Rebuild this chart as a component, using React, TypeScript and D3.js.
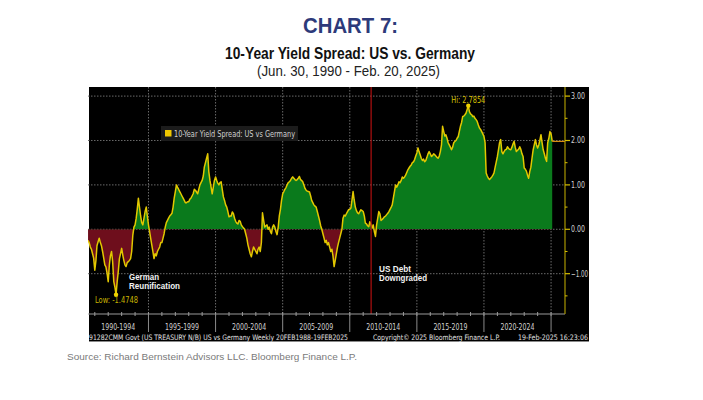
import React from "react";
import * as d3 from "d3";

// Month-end spread values (US 10Y minus German 10Y, %)
// Jul 1990 - Dec 1994 (first value = 30 Jun 1990)
const spread1990_1994 = [
  -0.25, -0.3, -0.4, -0.45, -0.55, -0.65,
  -0.92, -0.7, -0.37, -0.28, -0.2, -0.3, -0.37, -0.5, -0.65, -0.8, -0.85, -0.99,
  -1.18, -0.8, -0.6, -0.5, -0.73, -1.18, -1.3, -1.4748, -1.18, -0.95, -0.66, -0.55,
  -0.43, -0.58, -0.7, -0.8, -0.84, -0.75, -0.73, -0.7, -0.66, -0.5, -0.13, 0.05,
  0.1, 0.25, 0.45, 0.7, 0.5, 0.3, 0.15, 0.1, 0.25, 0.4, 0.5, 0.3,
];
const spread1995_1999 = [
  0.1, -0.05, -0.2, -0.35, -0.5, -0.66, -0.55, -0.6, -0.5, -0.45, -0.4, -0.3,
  -0.3, -0.2, -0.1, 0.05, 0.15, 0.2, 0.25, 0.3, 0.33, 0.36, 0.5, 0.7,
  0.85, 1.0, 0.95, 0.9, 0.85, 0.8, 0.75, 0.7, 0.65, 0.6, 0.6, 0.62,
  0.62, 0.68, 0.7, 0.75, 0.8, 0.9, 0.88, 0.84, 0.8, 0.9, 1.0, 1.05,
  1.1, 1.2, 1.4, 1.5, 1.6, 1.7, 1.3, 1.1, 0.95, 0.8, 0.95, 1.1,
];
const spread2000_2004 = [
  1.18, 1.1, 1.04, 1.0, 1.05, 1.07, 0.9, 0.73, 0.65, 0.55, 0.5, 0.4,
  0.28, 0.3, 0.3, 0.39, 0.35, 0.25, 0.18, 0.14, 0.12, 0.2, 0.18, 0.1,
  0.06, 0.03, 0.0, -0.1, -0.2, -0.35, -0.45, -0.55, -0.62, -0.5, -0.4, -0.45,
  -0.5, -0.55, -0.45, -0.4, -0.5, -0.3, 0.37, 0.2, 0.05, 0.08, 0.1, 0.0,
  0.05, -0.05, -0.1, 0.05, 0.1, 0.05, -0.05, -0.12, 0.05, 0.3, 0.45, 0.65,
];
const spread2005_2009 = [
  0.8, 0.85, 0.9, 0.94, 1.0, 1.05, 1.07, 1.1, 1.15, 1.18, 1.15, 1.12,
  1.1, 1.12, 1.15, 1.19, 1.12, 1.1, 1.07, 1.0, 0.92, 0.88, 0.86, 0.85,
  0.84, 0.75, 0.65, 0.6, 0.55, 0.52, 0.5, 0.4, 0.3, 0.2, 0.08, 0.0,
  -0.1, -0.2, -0.3, -0.25, -0.35, -0.3, -0.4, -0.5, -0.45, -0.6, -0.84, -0.7,
  -0.55, -0.4, -0.3, -0.2, -0.1, 0.0, 0.25, 0.32, 0.3, 0.35, 0.4, 0.44,
];
const spread2010_2014 = [
  0.45, 0.48, 0.65, 0.85, 0.66, 0.5, 0.42, 0.37, 0.35, 0.4, 0.44, 0.42,
  0.4, 0.3, 0.14, 0.12, 0.08, 0.06, 0.17, 0.1, 0.03, 0.1, -0.05, -0.16,
  0.1, 0.25, 0.4, 0.35, 0.2, 0.22, 0.25, 0.28, 0.3, 0.33, 0.36, 0.4,
  0.45, 0.5, 0.55, 0.7, 0.85, 1.0, 0.95, 1.0, 1.07, 1.05, 1.1, 1.18,
  1.15, 1.18, 1.22, 1.28, 1.34, 1.38, 1.42, 1.45, 1.5, 1.52, 1.57, 1.65,
];
const spread2015_2019 = [
  1.72, 1.83, 1.75, 1.68, 1.6, 1.55, 1.58, 1.52, 1.55, 1.62, 1.7, 1.75,
  1.7, 1.64, 1.66, 1.7, 1.68, 1.65, 1.62, 1.6, 1.65, 1.75, 1.9, 2.32,
  2.2, 2.1, 2.13, 2.05, 1.95, 1.9, 1.85, 1.79, 1.85, 1.95, 1.98, 2.0,
  2.05, 2.09, 2.2, 2.32, 2.4, 2.54, 2.55, 2.58, 2.62, 2.7, 2.7854, 2.65,
  2.6, 2.58, 2.54, 2.55, 2.5, 2.47, 2.43, 2.35, 2.28, 2.25, 2.2, 2.15,
];
const spread2020_2025 = [
  2.09, 1.95, 1.27, 1.2, 1.15, 1.12, 1.15, 1.18, 1.22, 1.27, 1.4, 1.52,
  1.64, 1.8, 1.95, 2.02, 1.75, 1.7, 1.75, 1.79, 1.8, 1.86, 1.82, 1.8,
  1.79, 1.85, 1.92, 1.98, 1.85, 1.75, 1.78, 1.8, 1.86, 1.8, 1.7, 1.64,
  1.38, 1.35, 1.31, 1.22, 1.15, 1.3, 1.4, 1.6, 1.79, 1.9, 2.02, 1.9,
  1.83, 1.9, 2.0, 2.13, 1.95, 1.79, 1.7, 1.6, 1.53, 1.95, 2.05, 2.2,
  2.15, 1.98,
];

const periodLabels = ["1990-1994", "1995-1999", "2000-2004", "2005-2009", "2010-2014", "2015-2019", "2020-2024"];
const periodStarts = [1990, 1995, 2000, 2005, 2010, 2015, 2020];
const yTickValues = [3, 2, 1, 0, -1];
const yMinorValues = [2.5, 1.5, 0.5, -0.5, -1.5];
const hiValue = 2.7854;
const lowValue = -1.4748;

const narrow = "'Liberation Sans Narrow', 'DejaVu Sans Condensed', 'Arial Narrow', sans-serif";
const sans = "'Liberation Sans', Arial, Helvetica, sans-serif";

export default function App() {
  const values = [
    ...spread1990_1994, ...spread1995_1999, ...spread2000_2004, ...spread2005_2009,
    ...spread2010_2014, ...spread2015_2019, ...spread2020_2025,
  ];
  const data = values.map((v, i) => ({ date: new Date(1990, 6 + i, 1), v }));

  const left = 88, right = 565, top = 87, bottom = 314;
  const x = d3.scaleTime().domain([new Date(1990, 5, 30), new Date(2026, 0, 15)]).range([left, right]);
  const y = d3.scaleLinear().domain([-1.908, 3.205]).range([bottom, top]);
  const y0 = y(0);

  const area = d3.area<{ date: Date; v: number }>().x(d => x(d.date)).y0(y0).y1(d => y(d.v));
  const line = d3.line<{ date: Date; v: number }>().x(d => x(d.date)).y(d => y(d.v));

  const hi = data.find(d => d.v === hiValue)!;
  const lo = data.find(d => d.v === lowValue)!;
  const last = data[data.length - 1];

  const boundaries = [1995, 2000, 2005, 2010, 2015, 2020, 2025].map(yr => x(new Date(yr, 0, 1)));
  const years = d3.range(1991, 2026).map(yr => x(new Date(yr, 0, 1)));
  const downgrade = x(new Date(2011, 7, 5));

  return (
    <svg width={703} height={400} style={{ position: "absolute", left: 0, top: 0, background: "#fff" }}>
      <defs>
        <clipPath id="above"><rect x={left} y={top} width={right - left} height={y0 - top} /></clipPath>
        <clipPath id="below"><rect x={left} y={y0} width={right - left} height={bottom - y0} /></clipPath>
        <clipPath id="plot"><rect x={left} y={top} width={right - left} height={bottom - top} /></clipPath>
      </defs>

      {/* titles */}
      <text x={350.5} y={33} textAnchor="middle" fontFamily={sans} fontWeight="bold" fontSize={22} fill="#2d3a7a" textLength={95} lengthAdjust="spacingAndGlyphs">CHART 7:</text>
      <text x={350} y={59} textAnchor="middle" fontFamily={sans} fontWeight="bold" fontSize={16} fill="#111" textLength={250} lengthAdjust="spacingAndGlyphs">10-Year Yield Spread: US vs. Germany</text>
      <text x={348.5} y={76} textAnchor="middle" fontFamily={sans} fontSize={14} fill="#222" textLength={183} lengthAdjust="spacingAndGlyphs">(Jun. 30, 1990 - Feb. 20, 2025)</text>

      {/* chart background */}
      <rect x={89} y={87} width={500} height={254} fill="#000" />
      <line x1={89} x2={589} y1={341.5} y2={341.5} stroke="#8a8a8a" strokeWidth={1} />

      {/* grid */}
      {yTickValues.map(t => (
        <line key={"g" + t} x1={left} x2={right} y1={y(t)} y2={y(t)} stroke="#6a6a6a" strokeWidth={1} strokeDasharray="1.5,1.5" />
      ))}
      {boundaries.map((bx, i) => (
        <line key={"v" + i} x1={bx} x2={bx} y1={top} y2={bottom} stroke="#6a6a6a" strokeWidth={1} strokeDasharray="1.5,1.5" />
      ))}

      {/* areas */}
      <path d={area(data)!} fill="#0a7a1c" clipPath="url(#above)" />
      <path d={area(data)!} fill="#6e0e1c" clipPath="url(#below)" />
      <path d={line(data)!} fill="none" stroke="#e2c800" strokeWidth={1.5} strokeLinejoin="round" clipPath="url(#plot)" />

      {/* downgrade line */}
      <line x1={downgrade} x2={downgrade} y1={top} y2={bottom} stroke="#b01010" strokeWidth={1.2} />

      {/* last value marker */}
      <line x1={x(last.date)} x2={right} y1={y(last.v)} y2={y(last.v)} stroke="#d88a10" strokeWidth={1.2} />

      {/* x axis */}
      <line x1={left} x2={right} y1={bottom} y2={bottom} stroke="#9a9a9a" strokeWidth={1} />
      {years.map((yx, i) => (
        <line key={"yt" + i} x1={yx} x2={yx} y1={bottom - 2} y2={bottom + 2} stroke="#9a9a9a" strokeWidth={1} />
      ))}
      {boundaries.map((bx, i) => (
        <line key={"sep" + i} x1={bx} x2={bx} y1={bottom} y2={332} stroke="#8a8a8a" strokeWidth={1} />
      ))}
      {periodLabels.map((lab, i) => {
        const a = Math.max(left, x(new Date(periodStarts[i], 0, 1)));
        const b = Math.min(right, x(new Date(periodStarts[i] + 5, 0, 1)));
        return (
          <text key={lab} x={(a + b) / 2} y={330} textAnchor="middle" fontFamily={narrow} fontSize={8.5} fill="#d0d0d0" textLength={34} lengthAdjust="spacingAndGlyphs">{lab}</text>
        );
      })}

      {/* right axis */}
      <line x1={right} x2={right} y1={top} y2={bottom} stroke="#a89600" strokeWidth={1.2} />
      {yTickValues.map(t => (
        <g key={"yt" + t}>
          <line x1={right} x2={right + 5} y1={y(t)} y2={y(t)} stroke="#d8c000" strokeWidth={1.2} />
          <text x={571} y={y(t) + 3} fontFamily={narrow} fontSize={9} fill="#d0d0d0" textLength={t < 0 ? 17 : 14} lengthAdjust="spacingAndGlyphs">{d3.format(".2f")(t)}</text>
        </g>
      ))}
      {yMinorValues.map(t => (
        <line key={"ym" + t} x1={right} x2={right + 2.5} y1={y(t)} y2={y(t)} stroke="#d8c000" strokeWidth={1} />
      ))}

      {/* hi / low annotations */}
      <circle cx={x(hi.date)} cy={y(hi.v)} r={2.2} fill="#f0d400" />
      <text x={x(hi.date)} y={103} textAnchor="middle" fontFamily={narrow} fontSize={8.5} fill="#d8c000" textLength={34} lengthAdjust="spacingAndGlyphs">{"Hi: " + hiValue}</text>
      <circle cx={x(lo.date)} cy={y(lo.v)} r={2.2} fill="#f0d400" />
      <text x={95} y={303} fontFamily={narrow} fontSize={8.5} fill="#c8b400" textLength={43} lengthAdjust="spacingAndGlyphs">{"Low: " + lowValue}</text>

      <text fontFamily={sans} fontWeight="bold" fontSize={8.5} fill="#f2f2f2">
        <tspan x={129} y={280} textLength={30} lengthAdjust="spacingAndGlyphs">German</tspan>
        <tspan x={129} y={289} textLength={51} lengthAdjust="spacingAndGlyphs">Reunification</tspan>
      </text>
      <text fontFamily={sans} fontWeight="bold" fontSize={8.5} fill="#f2f2f2">
        <tspan x={379} y={272} textLength={32} lengthAdjust="spacingAndGlyphs">US Debt</tspan>
        <tspan x={379} y={281} textLength={48} lengthAdjust="spacingAndGlyphs">Downgraded</tspan>
      </text>

      {/* legend */}
      <rect x={161} y={126} width={137} height={15} fill="#1c1c1c" />
      <rect x={165} y={130} width={6.5} height={6.5} fill="#f0c800" />
      <text x={174} y={136.5} fontFamily={narrow} fontSize={8} fill="#cfcfcf" textLength={121} lengthAdjust="spacingAndGlyphs">10-Year Yield Spread: US vs Germany</text>

      {/* bottom strip text */}
      <text x={89} y={339.5} fontFamily={narrow} fontSize={7.5} fill="#e0e0e0" textLength={259} lengthAdjust="spacingAndGlyphs">91282CMM Govt (US TREASURY N/B) US vs Germany  Weekly 20FEB1988-19FEB2025</text>
      <text x={373} y={339.5} fontFamily={narrow} fontSize={7.5} fill="#e0e0e0" textLength={127} lengthAdjust="spacingAndGlyphs">Copyright© 2025 Bloomberg Finance L.P.</text>
      <text x={588} y={339.5} textAnchor="end" fontFamily={narrow} fontSize={7.5} fill="#e0e0e0" textLength={70} lengthAdjust="spacingAndGlyphs">19-Feb-2025 16:23:06</text>

      {/* source */}
      <text x={67} y={360} fontFamily={sans} fontSize={9.5} fill="#7a7a7a" textLength={290} lengthAdjust="spacingAndGlyphs">Source: Richard Bernstein Advisors LLC. Bloomberg Finance L.P.</text>
    </svg>
  );
}
